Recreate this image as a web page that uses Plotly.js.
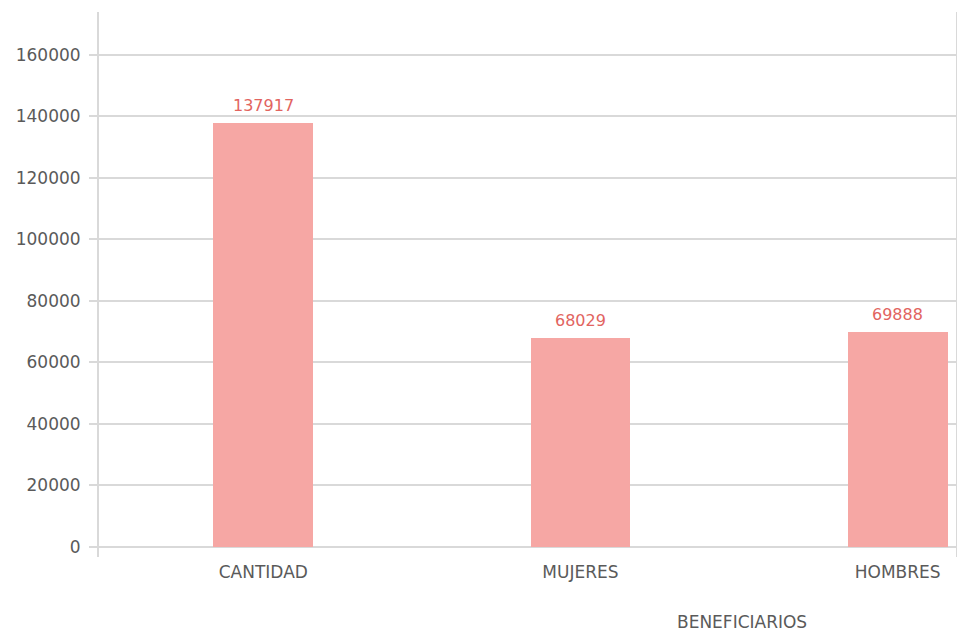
<!DOCTYPE html>
<html>
<head>
<meta charset="utf-8">
<script src="https://cdn.plot.ly/plotly-3.0.1.min.js"></script>
<style>html,body{margin:0;padding:0;background:#fff;}#chart{width:957px;height:634px;}</style>
</head>
<body>
<div id="chart"></div>
<script>
var categories = ["CANTIDAD", "MUJERES", "HOMBRES"];
var values = [137917, 68029, 69888];
var yTicks = [0, 20000, 40000, 60000, 80000, 100000, 120000, 140000, 160000];
var xAxisTitle = "BENEFICIARIOS";

var FONT = "DejaVu Sans, sans-serif";
var GRAY = "#5a5a5a";
var GRID = "#d9d9d9";

var trace = {
  type: "bar",
  x: categories,
  y: values,
  width: 0.315,
  marker: {color: "#f6a7a4"},
  hoverinfo: "none"
};

var annotations = categories.map(function (c, i) {
  return {
    x: c, y: values[i], xref: "x", yref: "y",
    text: String(values[i]), showarrow: false,
    yanchor: "bottom", yshift: 6,
    font: {family: FONT, size: 16, color: "#e2645f"}
  };
});
annotations.push({
  x: 0.75, y: -0.1395, xref: "paper", yref: "paper",
  text: xAxisTitle, showarrow: false, xanchor: "center", yanchor: "bottom",
  borderpad: 0,
  font: {family: FONT, size: 17, color: GRAY}
});

var layout = {
  width: 957, height: 634,
  margin: {l: 99, r: 1, t: 12, b: 77},
  paper_bgcolor: "#ffffff",
  plot_bgcolor: "#ffffff",
  showlegend: false,
  bargap: 0,
  xaxis: {
    type: "category",
    range: [-0.518, 2.184],
    showgrid: false,
    showline: false,
    zeroline: false,
    ticks: "",
    ticklabelstandoff: 3,
    tickfont: {family: FONT, size: 17, color: GRAY},
    fixedrange: true
  },
  yaxis: {
    range: [-3250, 173900],
    tickvals: yTicks,
    ticktext: yTicks.map(String),
    showgrid: true,
    gridcolor: GRID,
    gridwidth: 2,
    zeroline: false,
    showline: true,
    linecolor: GRID,
    linewidth: 2,
    mirror: true,
    ticks: "outside",
    ticklen: 8,
    tickcolor: GRID,
    tickwidth: 2,
    ticklabelstandoff: 5,
    tickfont: {family: FONT, size: 17, color: GRAY},
    fixedrange: true
  },
  annotations: annotations
};

Plotly.newPlot("chart", [trace], layout, {displayModeBar: false, staticPlot: true});
</script>
</body>
</html>
